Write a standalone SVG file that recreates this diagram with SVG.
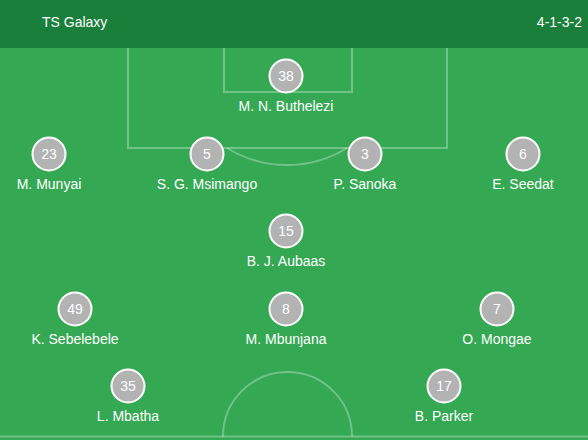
<svg xmlns="http://www.w3.org/2000/svg" width="588" height="440" viewBox="0 0 588 440">
<style>
.line{fill:none;stroke:#ffffff;stroke-opacity:0.3;stroke-width:2}
.hdr{font-family:"Liberation Sans",Arial,sans-serif;font-size:14px;fill:#ffffff}
.num{font-family:"Liberation Sans",Arial,sans-serif;font-size:14px;fill:#ffffff;text-anchor:middle}
.name{font-family:"Liberation Sans",Arial,sans-serif;font-size:14px;fill:#ffffff;text-anchor:middle}
.dot{fill:#b3b3b3;stroke:#ffffff;stroke-width:2}
</style>
<rect x="0" y="0" width="588" height="440" fill="#34a853"/>
<rect x="0" y="0" width="588" height="48" fill="#1a7f3b"/>
<g id="pitch">
<path class="line" d="M128 48 V148 H447 V48"/>
<path class="line" d="M224 48 V92 H352 V48"/>
<path class="line" d="M227 148 A114 114 0 0 0 347 148"/>
<path class="line" d="M0 436.5 H588"/>
<path class="line" d="M223 436.5 A64.5 64.5 0 0 1 352 436.5"/>
</g>
<text class="hdr" x="42" y="27">TS Galaxy</text>
<text class="hdr" x="582" y="27" text-anchor="end">4-1-3-2</text>
<g id="connectors"/>
<g id="p38"><circle class="dot" cx="286" cy="76" r="16.5"/><text class="num" x="286" y="81">38</text><text class="name" x="286" y="111">M. N. Buthelezi</text></g>
<g id="p23"><circle class="dot" cx="49" cy="154" r="16.5"/><text class="num" x="49" y="159">23</text><text class="name" x="49" y="189">M. Munyai</text></g>
<g id="p5"><circle class="dot" cx="207" cy="154" r="16.5"/><text class="num" x="207" y="159">5</text><text class="name" x="207" y="189">S. G. Msimango</text></g>
<g id="p3"><circle class="dot" cx="365" cy="154" r="16.5"/><text class="num" x="365" y="159">3</text><text class="name" x="365" y="189">P. Sanoka</text></g>
<g id="p6"><circle class="dot" cx="523" cy="154" r="16.5"/><text class="num" x="523" y="159">6</text><text class="name" x="523" y="189">E. Seedat</text></g>
<g id="p15"><circle class="dot" cx="286" cy="231" r="16.5"/><text class="num" x="286" y="236">15</text><text class="name" x="286" y="266">B. J. Aubaas</text></g>
<g id="p49"><circle class="dot" cx="75" cy="309" r="16.5"/><text class="num" x="75" y="314">49</text><text class="name" x="75" y="344">K. Sebelebele</text></g>
<g id="p8"><circle class="dot" cx="286" cy="309" r="16.5"/><text class="num" x="286" y="314">8</text><text class="name" x="286" y="344">M. Mbunjana</text></g>
<g id="p7"><circle class="dot" cx="497" cy="309" r="16.5"/><text class="num" x="497" y="314">7</text><text class="name" x="497" y="344">O. Mongae</text></g>
<g id="p35"><circle class="dot" cx="128" cy="386" r="16.5"/><text class="num" x="128" y="391">35</text><text class="name" x="128" y="421">L. Mbatha</text></g>
<g id="p17"><circle class="dot" cx="444" cy="386" r="16.5"/><text class="num" x="444" y="391">17</text><text class="name" x="444" y="421">B. Parker</text></g>
</svg>
